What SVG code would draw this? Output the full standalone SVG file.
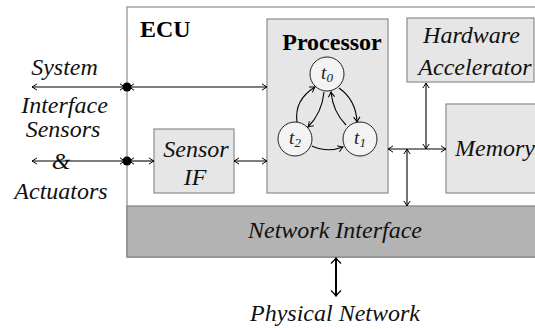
<svg xmlns="http://www.w3.org/2000/svg" width="535" height="329" viewBox="0 0 535 329">
  <style>
    .box { fill: #e6e6e6; stroke: #8c8c8c; stroke-width: 1.2; }
    .lbl { font-family: "Liberation Serif", "Times New Roman", serif; font-style: italic; font-size: 24px; fill: #111; text-anchor: middle; }
    .start { text-anchor: start; }
    .bold { font-family: "Liberation Serif", "Times New Roman", serif; font-weight: bold; font-size: 24px; fill: #000; }
    .task { fill: #f3f3f3; stroke: #222; stroke-width: 1; }
    .tl { font-family: "Liberation Serif", "Times New Roman", serif; font-style: italic; font-size: 19px; fill: #222; text-anchor: middle; }
    .sub { font-size: 13px; }
    .dot { fill: #000; stroke: none; }
  </style>
  <defs>
    <marker id="ah" viewBox="-6 -4 7 8" markerWidth="7" markerHeight="8" refX="0" refY="0" orient="auto-start-reverse" markerUnits="userSpaceOnUse">
      <path d="M-5,-3.2 Q-1.5,-0.6 0,0 Q-1.5,0.6 -5,3.2" fill="none" stroke="#000" stroke-width="1"/>
    </marker>
    <marker id="ahBig" viewBox="-7 -6 8 12" markerWidth="8" markerHeight="12" refX="0" refY="0" orient="auto-start-reverse" markerUnits="userSpaceOnUse">
      <path d="M-5.5,-5 Q-1.5,-0.8 0,0 Q-1.5,0.8 -5.5,5" fill="none" stroke="#000" stroke-width="1.4"/>
    </marker>
  </defs>

  <!-- ECU enclosure -->
  <g id="ecu">
    <rect x="127" y="7" width="420" height="250" fill="#fff" stroke="#8c8c8c" stroke-width="1.2"/>
    <text class="bold" x="140" y="37">ECU</text>
  </g>

  <g id="network-interface">
    <rect x="127" y="206" width="420" height="51" fill="#b3b3b3" stroke="#808080" stroke-width="1.2"/>
    <text class="lbl" x="335" y="238">Network Interface</text>
  </g>

  <g id="processor">
    <rect class="box" x="267" y="19" width="121" height="174"/>
    <text class="bold" x="332" y="50" text-anchor="middle">Processor</text>
  </g>

  <g id="hardware-accelerator">
    <rect class="box" x="407" y="18" width="127" height="64"/>
    <text class="lbl" x="471.5" y="43">Hardware</text>
    <text class="lbl" x="475" y="75">Accelerator</text>
  </g>

  <g id="memory">
    <rect class="box" x="446" y="104" width="100" height="89"/>
    <text class="lbl start" x="455" y="156">Memory</text>
  </g>

  <g id="sensor-if">
    <rect class="box" x="154" y="129" width="80" height="64"/>
    <text class="lbl" x="196" y="157">Sensor</text>
    <text class="lbl" x="195" y="185">IF</text>
  </g>

  <g id="task-t0">
    <circle class="task" cx="327" cy="74" r="17"/>
    <text class="tl" x="327" y="79">t<tspan class="sub" dy="3">0</tspan></text>
  </g>
  <g id="task-t1">
    <circle class="task" cx="360" cy="139" r="17"/>
    <text class="tl" x="360" y="144">t<tspan class="sub" dy="3">1</tspan></text>
  </g>
  <g id="task-t2">
    <circle class="task" cx="295" cy="139" r="17"/>
    <text class="tl" x="295" y="144">t<tspan class="sub" dy="3">2</tspan></text>
  </g>

  <g id="external-labels">
    <text class="lbl" x="64.5" y="75">System</text>
    <text class="lbl" x="64.5" y="113">Interface</text>
    <text class="lbl" x="63" y="137">Sensors</text>
    <text class="lbl" x="61" y="169">&amp;</text>
    <text class="lbl" x="61" y="199">Actuators</text>
    <text class="lbl" x="335" y="321">Physical Network</text>
  </g>

  <g id="connectors" stroke="#000" stroke-width="1.1" fill="none">
    <!-- system interface -->
    <line x1="32" y1="87" x2="125" y2="87" marker-start="url(#ah)" marker-end="url(#ah)"/>
    <line x1="129" y1="87" x2="267" y2="87" marker-start="url(#ah)" marker-end="url(#ah)"/>
    <!-- sensors and actuators -->
    <line x1="32" y1="161" x2="125" y2="161" marker-start="url(#ah)" marker-end="url(#ah)"/>
    <line x1="129" y1="161" x2="154" y2="161" marker-start="url(#ah)" marker-end="url(#ah)"/>
    <line x1="234" y1="161" x2="267" y2="161" marker-start="url(#ah)" marker-end="url(#ah)"/>
    <circle class="dot" cx="127" cy="87" r="4.5"/>
    <circle class="dot" cx="127" cy="161" r="4.5"/>
    <!-- internal bus -->
    <line x1="388" y1="149" x2="446" y2="149" marker-start="url(#ah)" marker-end="url(#ah)"/>
    <line x1="426" y1="83" x2="426" y2="149" marker-start="url(#ah)" marker-end="url(#ah)"/>
    <line x1="407" y1="149" x2="407" y2="206" marker-start="url(#ah)" marker-end="url(#ah)"/>
    <!-- physical network -->
    <line x1="336" y1="258" x2="336" y2="296" stroke-width="2" marker-start="url(#ahBig)" marker-end="url(#ahBig)"/>
    <!-- task graph -->
    <path d="M297,122 Q294,100 315,87" marker-end="url(#ah)"/>
    <path d="M324,92 Q322,113 308,127" marker-end="url(#ah)"/>
    <path d="M339,88 Q356,100 357,122" marker-end="url(#ah)"/>
    <path d="M346,125 Q333,112 331,92" marker-end="url(#ah)"/>
    <path d="M312,146 Q327,153 343,147" marker-end="url(#ah)"/>
  </g>
</svg>
